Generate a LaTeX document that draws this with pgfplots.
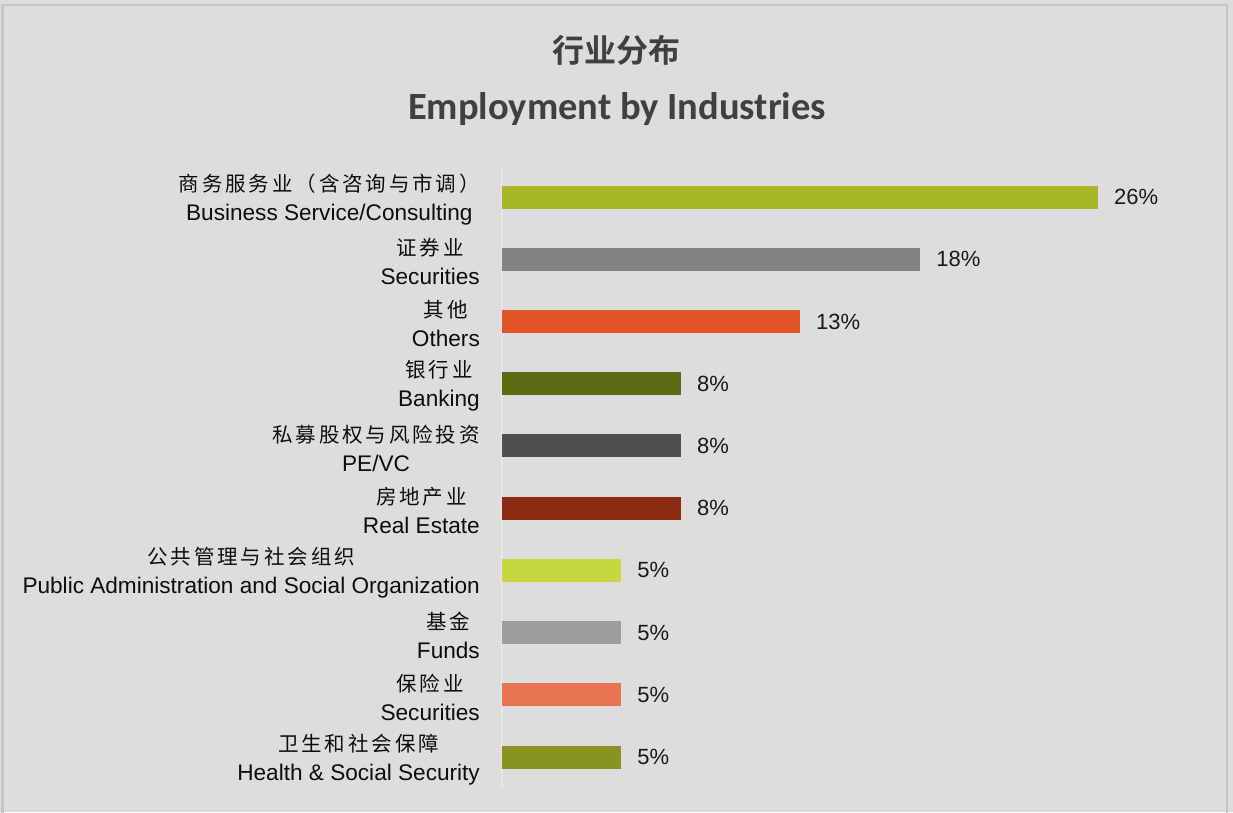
\documentclass[border=0pt]{standalone}
\usepackage{fontspec}
\usepackage{pgfplots}
\pgfplotsset{compat=1.18}
\setmainfont{Liberation Sans}
\newfontfamily\cjk[LetterSpace=14]{Noto Sans CJK SC}
\newfontfamily\cjkbold{Noto Sans CJK SC Bold}
\newfontfamily\titlefont{Carlito}
\definecolor{bg}{HTML}{DDDDDD}
\definecolor{frame}{HTML}{C6C6C6}
\definecolor{titlec}{HTML}{404040}
\definecolor{c1}{HTML}{A6B828}
\definecolor{c2}{HTML}{838383}
\definecolor{c3}{HTML}{E25527}
\definecolor{c4}{HTML}{5F6B13}
\definecolor{c5}{HTML}{4F4F4F}
\definecolor{c6}{HTML}{8B2A11}
\definecolor{c7}{HTML}{C5D840}
\definecolor{c8}{HTML}{9D9D9D}
\definecolor{c9}{HTML}{E77552}
\definecolor{c10}{HTML}{879422}
\newcommand{\lab}[2]{{\cjk\fontsize{20.5}{29}\selectfont #1}\\#2}
\begin{document}
\begin{tikzpicture}
\useasboundingbox (0,0) rectangle (1233pt,812pt);
\fill[bg] (0,0) rectangle (1233pt,812pt);
\draw[frame, line width=2.5pt] (2.5pt,-10pt) rectangle (1227pt,807pt);
\node[anchor=base, text=titlec, font=\cjkbold\fontsize{32}{36}\selectfont] at (616pt,749pt) {行业分布};
\node[anchor=base, text=titlec, font=\titlefont\bfseries\fontsize{38.5}{42}\selectfont] at (617pt,692.7pt) {Employment by Industries};
\begin{axis}[
  at={(502pt,23.9pt)}, anchor=south west,
  scale only axis, width=641.8pt, height=622.2pt,
  xmin=0, xmax=28, ymin=-0.5, ymax=9.5,
  y dir=reverse,
  enlargelimits=false, clip=false,
  hide x axis,
  axis y line*=left,
  y axis line style={draw=white!25!bg, line width=1.5pt},
  major tick length=0pt,
  ytick={0,...,9},
  yticklabels={
    {\lab{商务服务业（含咨询与市调）}{Business Service/Consulting}},
    {\lab{证券业}{Securities}},
    {\lab{其他}{Others}},
    {\lab{银行业}{Banking}},
    {\lab{私募股权与风险投资}{PE/VC}},
    {\lab{房地产业}{Real Estate}},
    {\lab{公共管理与社会组织}{Public Administration and Social Organization}},
    {\lab{基金}{Funds}},
    {\lab{保险业}{Securities}},
    {\lab{卫生和社会保障}{Health \& Social Security}}
  },
  yticklabel style={align=center, inner sep=0pt, xshift=-22pt, yshift=-2.5pt, text=black!95,
    font=\fontsize{22.6}{29}\selectfont},
  xbar, bar width=23pt, bar shift=0pt,
  point meta=explicit symbolic,
  nodes near coords,
  nodes near coords style={anchor=west, inner sep=0pt, xshift=16pt, text=black!90,
    font=\fontsize{22}{26}\selectfont},
  every axis plot/.append style={draw=none},
]
\addplot[fill=c1] coordinates {(26,0) [26\%]};
\addplot[fill=c2] coordinates {(18.24,1) [18\%]};
\addplot[fill=c3] coordinates {(13.0,2) [13\%]};
\addplot[fill=c4] coordinates {(7.81,3) [8\%]};
\addplot[fill=c5] coordinates {(7.81,4) [8\%]};
\addplot[fill=c6] coordinates {(7.81,5) [8\%]};
\addplot[fill=c7] coordinates {(5.2,6) [5\%]};
\addplot[fill=c8] coordinates {(5.2,7) [5\%]};
\addplot[fill=c9] coordinates {(5.2,8) [5\%]};
\addplot[fill=c10] coordinates {(5.2,9) [5\%]};
\end{axis}
\end{tikzpicture}
\end{document}
